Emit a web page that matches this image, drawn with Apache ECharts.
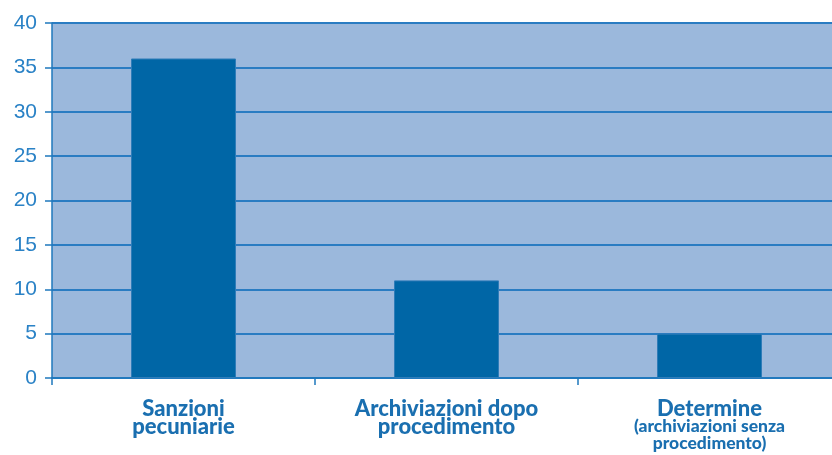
<!DOCTYPE html>
<html>
<head>
<meta charset="utf-8">
<script src="https://cdn.jsdelivr.net/npm/echarts@6/dist/echarts.min.js"></script>
<style>
  html, body { margin: 0; padding: 0; background: #ffffff; overflow: hidden; }
  #chart { width: 841px; height: 455px; }
</style>
</head>
<body>
<div id="chart"></div>
<script>
// Esiti dei procedimenti
const categories = [
  'Sanzioni\npecuniarie',
  'Archiviazioni dopo\nprocedimento',
  'Determine\n(archiviazioni senza\nprocedimento)'
];
const values = [36, 11, 5];
const yTicks = { min: 0, max: 40, interval: 5 };

const blue = '#1f78bd';
const chart = echarts.init(document.getElementById('chart'));

chart.setOption({
  animation: false,
  grid: {
    left: 52, right: 0, top: 23, bottom: 77,
    show: true, backgroundColor: '#9bb8dc', borderWidth: 0
  },
  xAxis: {
    type: 'category',
    data: categories,
    axisLine: { show: true, lineStyle: { color: blue, width: 1.5 } },
    axisTick: { show: true, length: 7, lineStyle: { color: blue, width: 1.5 } },
    axisLabel: {
      interval: 0,
      margin: 22,
      formatter: function (v, i) {
        if (i === 2) {
          const p = v.split('\n');
          return '{a|' + p[0] + '}\n{b|' + p[1] + '}\n{b|' + p[2] + '}';
        }
        return v.split('\n').map(s => '{a|' + s + '}').join('\n');
      },
      rich: {
        a: { fontFamily: 'Lato', fontWeight: 900, fontSize: 22, color: '#1a6fb0', lineHeight: 18 },
        b: { fontFamily: 'Lato', fontWeight: 900, fontSize: 17.5, color: '#1a6fb0', lineHeight: 17 }
      }
    }
  },
  yAxis: {
    type: 'value',
    min: yTicks.min, max: yTicks.max, interval: yTicks.interval,
    axisLine: { show: true, lineStyle: { color: blue, width: 1.5 } },
    axisTick: { show: true, length: 7, lineStyle: { color: blue, width: 1.5 } },
    splitLine: { show: true, lineStyle: { color: '#2a7cc2', width: 2 } },
    axisLabel: {
      margin: 15,
      fontFamily: 'Liberation Sans',
      fontSize: 21,
      color: '#2a82c6'
    }
  },
  series: [{
    type: 'bar',
    data: values,
    barWidth: 105,
    itemStyle: { color: '#0066a6', borderColor: '#2f7cb8', borderWidth: 1 }
  }]
});
</script>
</body>
</html>
